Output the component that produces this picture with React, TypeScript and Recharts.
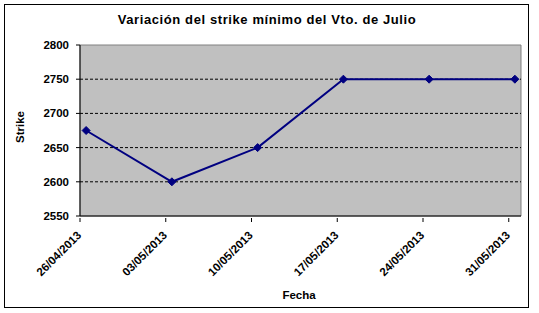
import React from "react";
import {
  LineChart,
  Line,
  XAxis,
  YAxis,
  ReferenceArea,
  ReferenceLine,
} from "recharts";

const fechas = ["26/04/2013", "03/05/2013", "10/05/2013", "17/05/2013", "24/05/2013", "31/05/2013"];
const strikes = [2675, 2600, 2650, 2750, 2750, 2750];
const yTicks = [2550, 2600, 2650, 2700, 2750, 2800];
const gridValues = [2600, 2650, 2700, 2750];

const FONT = "'Liberation Sans', Arial, sans-serif";
const DAY = 86400000;

// Excel date axis: one slot per day, points in the middle of their day
const toTime = (s: string) => {
  const [d, m, y] = s.split("/").map(Number);
  return Date.UTC(y, m - 1, d);
};
const t0 = toTime(fechas[0]);
const dayOf = (s: string) => Math.round((toTime(s) - t0) / DAY);
const xTicks = fechas.map(dayOf);
const xMax = xTicks[xTicks.length - 1] + 1;

const data = fechas.map((f, i) => ({ dia: dayOf(f) + 0.5, fecha: f, strike: strikes[i] }));

const Diamond = (props: any) => {
  const { cx, cy } = props;
  if (cx == null || cy == null) return null;
  const r = 4;
  return (
    <polygon
      points={`${cx},${cy - r} ${cx + r},${cy} ${cx},${cy + r} ${cx - r},${cy}`}
      fill="#000080"
      stroke="#000080"
    />
  );
};

const DateTick = (props: any) => {
  const { x, y, payload } = props;
  const label = fechas[xTicks.indexOf(payload.value)];
  return (
    <g>
      <line x1={x} y1={y - 4} x2={x} y2={y} stroke="#000" />
      <text
        x={x + 2}
        y={y + 14}
        textAnchor="end"
        transform={`rotate(-45, ${x + 2}, ${y + 14})`}
        fontFamily={FONT}
        fontSize={11.5}
        fontWeight="bold"
        fill="#000"
      >
        {label}
      </text>
    </g>
  );
};

export default function App() {
  return (
    <div style={{ position: "absolute", left: 0, top: 0, width: 539, height: 313, background: "#fff" }}>
      <div
        style={{
          position: "absolute",
          left: 4,
          top: 4,
          width: 523,
          height: 302,
          border: "1px solid #000",
        }}
      />
      <div
        style={{
          position: "absolute",
          left: 0,
          top: 12,
          width: 534,
          textAlign: "center",
          fontFamily: FONT,
          fontSize: 13,
          fontWeight: "bold",
          letterSpacing: 0.6,
        }}
      >
        Variación del strike mínimo del Vto. de Julio
      </div>
      <div
        style={{
          position: "absolute",
          left: 299,
          top: 289,
          fontFamily: FONT,
          fontSize: 11.5,
          fontWeight: "bold",
          transform: "translateX(-50%)",
        }}
      >
        Fecha
      </div>
      <div
        style={{
          position: "absolute",
          left: 20,
          top: 127,
          fontFamily: FONT,
          fontSize: 11.5,
          fontWeight: "bold",
          transform: "translate(-50%, -50%) rotate(-90deg)",
          whiteSpace: "nowrap",
        }}
      >
        Strike
      </div>
      <LineChart
        width={539}
        height={313}
        data={data}
        margin={{ top: 45, right: 18, bottom: 17, left: 10 }}
        style={{ position: "absolute", left: 0, top: 0 }}
      >
        <ReferenceArea
          x1={0}
          x2={xMax}
          y1={2550}
          y2={2800}
          fill="#C0C0C0"
          fillOpacity={1}
          stroke="#808080"
          strokeWidth={1}
        />
        {gridValues.map((v) => (
          <ReferenceLine key={v} y={v} stroke="#000" strokeDasharray="3 2" />
        ))}
        <XAxis
          dataKey="dia"
          type="number"
          domain={[0, xMax]}
          ticks={xTicks}
          interval={0}
          height={80}
          axisLine={{ stroke: "#000" }}
          tickLine={false}
          tick={<DateTick />}
          tickSize={4}
        />
        <YAxis
          domain={[2550, 2800]}
          ticks={yTicks}
          width={70}
          axisLine={{ stroke: "#000" }}
          tickLine={{ stroke: "#000" }}
          tickSize={4}
          tickMargin={7}
          tick={{ fontFamily: FONT, fontSize: 11.5, fontWeight: "bold", fill: "#000" }}
          interval={0}
        />
        <Line
          dataKey="strike"
          stroke="#000080"
          strokeWidth={2}
          dot={<Diamond />}
          activeDot={false}
          isAnimationActive={false}
        />
      </LineChart>
    </div>
  );
}
